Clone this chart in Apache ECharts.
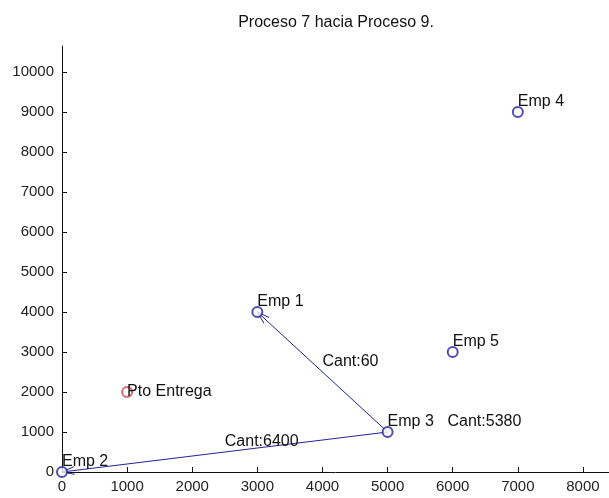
<!DOCTYPE html>
<html>
<head>
<meta charset="utf-8">
<script src="https://cdn.jsdelivr.net/npm/echarts@6/dist/echarts.min.js"></script>
<style>
html,body{margin:0;padding:0;background:#fff;}
#chart{width:609px;height:498px;}
</style>
</head>
<body>
<div id="chart"></div>
<script>
// ---- data ----
const titleText = 'Proceso 7 hacia Proceso 9.';
const xTicks = [0, 1000, 2000, 3000, 4000, 5000, 6000, 7000, 8000];
const yTicks = [0, 1000, 2000, 3000, 4000, 5000, 6000, 7000, 8000, 9000, 10000];
const xMax = 8400;
const yMax = 10650;

const empNames = ['Emp 1', 'Emp 2', 'Emp 3', 'Emp 4', 'Emp 5'];
const empX = [3000, 0, 5000, 7000, 6000];
const empY = [4000, 0, 1000, 9000, 3000];

const deliveryName = ['Pto Entrega'];
const deliveryX = [1000];
const deliveryY = [2000];

const arrowFromX = [5000, 5000];
const arrowFromY = [1000, 1000];
const arrowToX = [3000, 0];
const arrowToY = [4000, 0];

const textLabels = ['Emp 1', 'Emp 2', 'Emp 3', 'Emp 4', 'Emp 5', 'Pto Entrega', 'Cant:60', 'Cant:6400', 'Cant:5380'];
const textX = [3000, 0, 5000, 7000, 6000, 1000, 4000, 2500, 5920];
const textY = [4250, 250, 1250, 9250, 3250, 2000, 2750, 750, 1250];

// ---- chart ----
const FONT = '"Liberation Sans", Arial, sans-serif';
const BLUE = '#23239a';
const RED = '#d04848';

const chart = echarts.init(document.getElementById('chart'));
const empData = empX.map((x, i) => [x, empY[i], empNames[i]]);
const delData = deliveryX.map((x, i) => [x, deliveryY[i], deliveryName[i]]);
const arrowData = arrowFromX.map((x, i) => [x, arrowFromY[i], arrowToX[i], arrowToY[i]]);
const textData = textX.map((x, i) => [x, textY[i], textLabels[i]]);
const plain = v => String(v);

chart.setOption({
  animation: false,
  backgroundColor: '#fff',
  title: {
    text: titleText,
    left: 331,
    top: 10,
    textAlign: 'center',
    textStyle: {fontFamily: FONT, fontSize: 16, fontWeight: 'normal', color: '#111'}
  },
  grid: {left: 62, right: 0, top: 46, bottom: 26, containLabel: false},
  xAxis: {
    type: 'value', min: 0, max: xMax, interval: 1000,
    axisLine: {show: true, onZero: false, lineStyle: {color: '#111', width: 1}},
    axisTick: {show: true, inside: true, length: 5, customValues: xTicks, lineStyle: {color: '#111'}},
    axisLabel: {customValues: xTicks, formatter: plain, fontFamily: FONT, fontSize: 15, color: '#222', margin: 7},
    splitLine: {show: false}
  },
  yAxis: {
    type: 'value', min: 0, max: yMax, interval: 1000,
    axisLine: {show: true, onZero: false, lineStyle: {color: '#111', width: 1}},
    axisTick: {show: true, inside: true, length: 5, customValues: yTicks, lineStyle: {color: '#111'}},
    axisLabel: {customValues: yTicks, formatter: plain, fontFamily: FONT, fontSize: 15, color: '#222', margin: 8},
    splitLine: {show: false}
  },
  series: [
    {
      type: 'custom',
      data: arrowData,
      encode: {x: [0, 2], y: [1, 3]},
      clip: false,
      renderItem: function (params, api) {
        const p1 = api.coord([api.value(0), api.value(1)]);
        const p2 = api.coord([api.value(2), api.value(3)]);
        const ang = Math.atan2(p2[1] - p1[1], p2[0] - p1[0]);
        const L = 13, a = 0.3;
        const h1 = [p2[0] - L * Math.cos(ang - a), p2[1] - L * Math.sin(ang - a)];
        const h2 = [p2[0] - L * Math.cos(ang + a), p2[1] - L * Math.sin(ang + a)];
        return {
          type: 'group',
          children: [
            {type: 'line', shape: {x1: p1[0], y1: p1[1], x2: p2[0], y2: p2[1]}, style: {stroke: BLUE, lineWidth: 1}},
            {type: 'polyline', shape: {points: [h1, p2, h2]}, style: {stroke: BLUE, lineWidth: 1, fill: null}}
          ]
        };
      },
      z: 2
    },
    {
      type: 'scatter',
      data: empData,
      symbol: 'emptyCircle',
      symbolSize: 10,
      itemStyle: {color: BLUE, borderColor: BLUE, borderWidth: 1},
      clip: false,
      z: 3
    },
    {
      type: 'scatter',
      data: delData,
      symbol: 'emptyCircle',
      symbolSize: 10,
      itemStyle: {color: RED, borderColor: RED, borderWidth: 1},
      clip: false,
      z: 3
    },
    {
      type: 'custom',
      data: textData,
      encode: {x: 0, y: 1},
      clip: false,
      renderItem: function (params, api) {
        const p = api.coord([api.value(0), api.value(1)]);
        return {
          type: 'text',
          x: p[0], y: p[1],
          style: {
            text: textLabels[params.dataIndex],
            fontFamily: FONT, fontSize: 16, fill: '#111',
            align: 'left', verticalAlign: 'middle'
          }
        };
      },
      z: 4
    }
  ]
});
</script>
</body>
</html>
